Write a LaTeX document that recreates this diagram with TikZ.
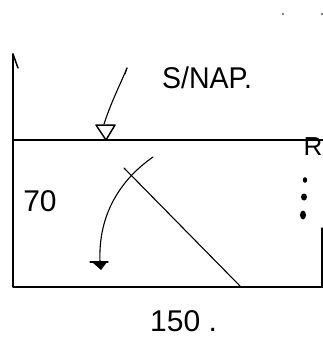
\documentclass[tikz,border=0pt]{standalone}
\usepackage{fontspec}
\setmainfont{Liberation Sans}
\usetikzlibrary{arrows.meta}
\begin{document}
\begin{tikzpicture}[x=1pt,y=-1pt,
  ink/.style={line width=1.5pt,line cap=round,line join=round,black},
  thin ink/.style={line width=1.1pt,line cap=round,black},
  hand/.style={font=\fontsize{30}{30}\selectfont,inner sep=0pt}]
\useasboundingbox (0,0) rectangle (323,342);
% tank outline
\coordinate (tl) at (13,54);
\coordinate (bl) at (13,287);
\coordinate (br) at (323,287);
\draw[ink] (tl) -- (bl) -- (br);
\draw[ink] (13,54) -- (18,68);
\draw[thin ink] (322,228) -- (322,287);
% water line
\coordinate (wl) at (13,140);
\coordinate (wr) at (323,140);
\draw[ink] (wl) -- (wr);
% water level symbol
\coordinate (wv) at (106,140);
\draw[ink] (wv) -- (96,125) -- (115,125) -- cycle;
\draw[thin ink] (104,124) .. controls (112,100) and (120,85) .. (127,68);
\draw[thin ink] (127,68) -- (125,74);
% labels
\node[hand,anchor=west,xscale=0.95] (snap) at (162,78) {S/NAP.};
\node[hand,anchor=east,font=\fontsize{26}{26}\selectfont] (r) at (322.5,147) {R};
\node[hand] (seventy) at (40,201) {70};
\node[hand,anchor=west] (onefifty) at (150,321) {150 .};
% dots
\fill (305,180) ellipse (2.2 and 2.8);
\fill (304,197) ellipse (3 and 3.5);
\fill (303,215) ellipse (3 and 4.5);
% diagonal
\coordinate (d1) at (124,168);
\coordinate (d2) at (240,286);
\draw[thin ink] (d1) -- (d2);
% curved arrow
\coordinate (c1) at (153,157);
\coordinate (c2) at (100,262);
\draw[thin ink] (c1) .. controls (120,180) and (98,215) .. (c2);
\draw[thin ink] (90,262) -- (108,262);
\fill (92,262) -- (107,262) -- (101,270) -- cycle;
% specks
\fill (283,14) circle (0.8);
\fill (322,14) circle (0.8);
\end{tikzpicture}
\end{document}
